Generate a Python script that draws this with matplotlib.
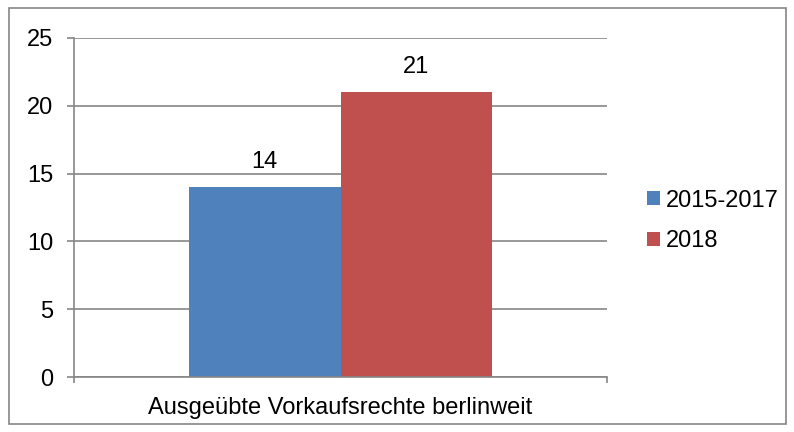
import matplotlib.pyplot as plt
from matplotlib.patches import Rectangle

plt.rcParams['font.family'] = ['Liberation Sans', 'DejaVu Sans']

category = "Ausgeübte Vorkaufsrechte berlinweit"
series = ["2015-2017", "2018"]
values = [14, 21]
colors = ["#4F81BD", "#C0504D"]
yticks = [0, 5, 10, 15, 20, 25]

W, H = 794, 432
fs = 17
fig = plt.figure(figsize=(W / 100, H / 100), dpi=100)
ax = fig.add_axes([74 / W, 1 - 377 / H, (607 - 74) / W, (377 - 38) / H])

# outer chart border
fig.patches.append(Rectangle((9 / W, 1 - 424 / H), (786 - 9) / W, (424 - 8) / H,
                             transform=fig.transFigure, fill=False,
                             edgecolor="#868686", linewidth=1.2))

bw = 0.285
offsets = [-bw / 2, bw / 2]
for name, v, c, off in zip(series, values, colors, offsets):
    ax.bar(off, v, width=bw, color=c, label=name, zorder=2)
    ax.annotate(str(v), (off, v), xytext=(0, 18), textcoords="offset points",
                ha="center", va="center", fontsize=fs)

ax.set_xlim(-0.5, 0.5)
ax.set_ylim(0, 25)
ax.set_yticks(yticks)
ax.yaxis.grid(True, color="#868686", linewidth=1.2, zorder=0)
ax.set_axisbelow(True)
for s in ["top", "right"]:
    ax.spines[s].set_visible(False)
for s in ["left", "bottom"]:
    ax.spines[s].set_color("#868686")
    ax.spines[s].set_linewidth(1.2)
ax.tick_params(axis="y", length=5, color="#868686", width=1.2, labelsize=fs, pad=10)
ax.set_xticks([-0.5, 0.5])
ax.set_xticklabels(["", ""])
ax.tick_params(axis="x", length=4, color="#868686", width=1.2)
ax.annotate(category, (0, 0), xycoords=ax.get_xaxis_transform(),
            xytext=(0, -22), textcoords="offset points",
            ha="center", va="center", fontsize=fs)

ax.legend(loc="center left", bbox_to_anchor=(647 / W, 1 - 221 / H),
          bbox_transform=fig.transFigure, frameon=False, fontsize=fs,
          handlelength=0.55, handleheight=0.55, handletextpad=0.25,
          labelspacing=0.8, borderpad=0, borderaxespad=0)

fig.savefig("out.png", dpi=100)
